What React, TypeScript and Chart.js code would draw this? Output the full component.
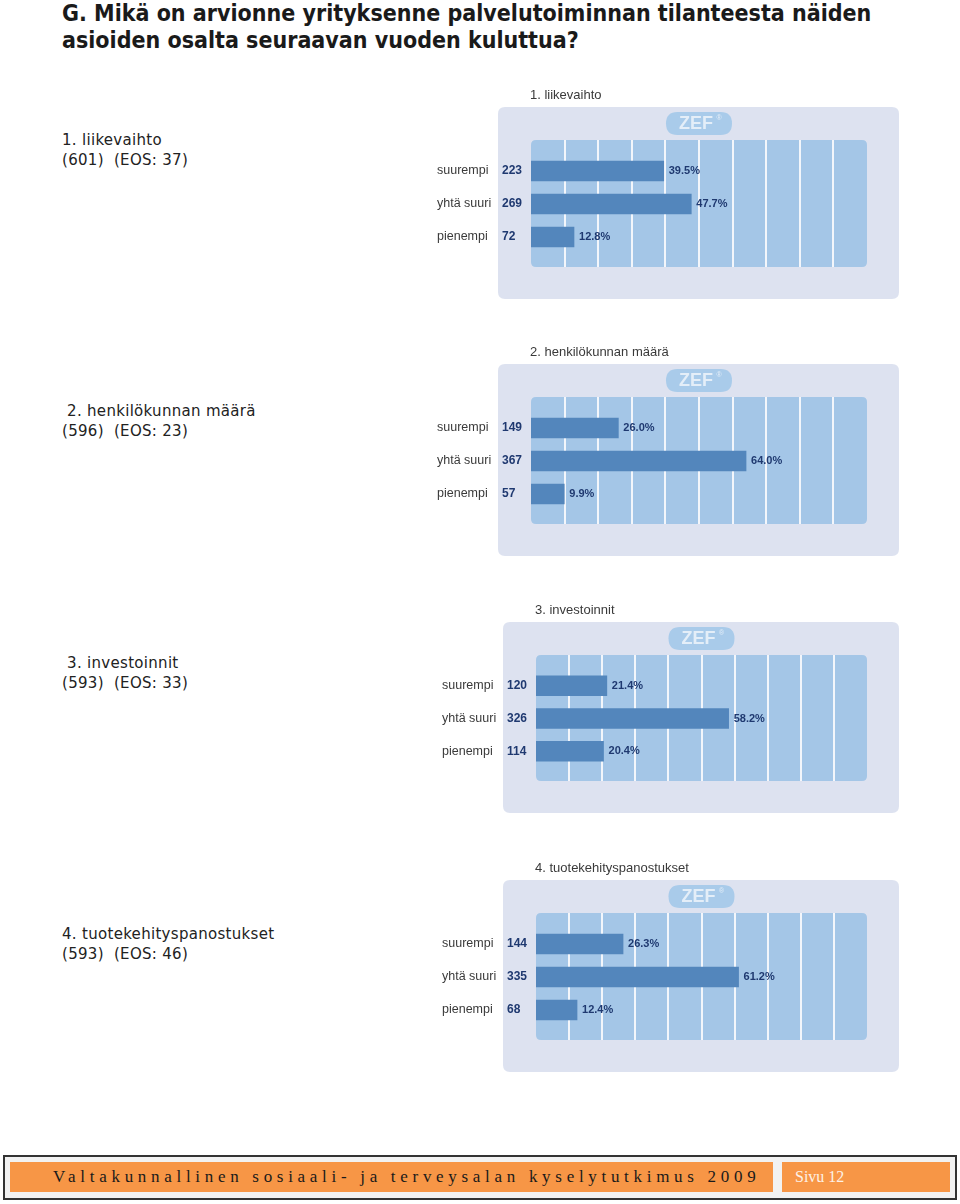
import React, { useEffect, useRef } from "react";
import { Chart, registerables } from "chart.js";

Chart.register(...registerables);

const categories = ["suurempi", "yhtä suuri", "pienempi"];

const chartTitles = ["1. liikevaihto", "2. henkilökunnan määrä", "3. investoinnit", "4. tuotekehityspanostukset"];
const sideTitles = ["1. liikevaihto", " 2. henkilökunnan määrä", " 3. investoinnit", "4. tuotekehityspanostukset"];
const respondents = [601, 596, 593, 593];
const eosCounts = [37, 23, 33, 46];

const counts1 = [223, 269, 72];
const percents1 = [39.5, 47.7, 12.8];
const counts2 = [149, 367, 57];
const percents2 = [26.0, 64.0, 9.9];
const counts3 = [120, 326, 114];
const percents3 = [21.4, 58.2, 20.4];
const counts4 = [144, 335, 68];
const percents4 = [26.3, 61.2, 12.4];

const gridSteps = [10, 20, 30, 40, 50, 60, 70, 80, 90];

const allCounts = [counts1, counts2, counts3, counts4];
const allPercents = [percents1, percents2, percents3, percents4];

function roundRect(ctx: CanvasRenderingContext2D, x: number, y: number, w: number, h: number, r: number) {
  ctx.beginPath();
  ctx.moveTo(x + r, y);
  ctx.lineTo(x + w - r, y);
  ctx.quadraticCurveTo(x + w, y, x + w, y + r);
  ctx.lineTo(x + w, y + h - r);
  ctx.quadraticCurveTo(x + w, y + h, x + w - r, y + h);
  ctx.lineTo(x + r, y + h);
  ctx.quadraticCurveTo(x, y + h, x, y + h - r);
  ctx.lineTo(x, y + r);
  ctx.quadraticCurveTo(x, y, x + r, y);
  ctx.closePath();
}

const panelPlugin = {
  id: "zefPanel",
  beforeDatasetsDraw(chart: any, _args: any, opts: any) {
    const { ctx, chartArea: a, scales } = chart;
    const xs = scales.x;
    const w = a.right - a.left;
    const h = a.bottom - a.top;
    ctx.save();
    // outer panel
    ctx.fillStyle = "#dde2f0";
    roundRect(ctx, a.left - 33, a.top - 33, w + 65, h + 65, 7);
    ctx.fill();
    // ZEF pill
    const cx = (a.left + a.right) / 2;
    ctx.fillStyle = "#a9cbea";
    roundRect(ctx, cx - 33, a.top - 28, 66, 23, 11.5);
    ctx.fill();
    ctx.fillStyle = "#e4eef8";
    ctx.font = "bold 18px 'Liberation Sans', Arial, sans-serif";
    ctx.textAlign = "center";
    ctx.textBaseline = "middle";
    ctx.fillText("ZEF", cx - 3, a.top - 16);
    ctx.font = "7px 'Liberation Sans', Arial, sans-serif";
    ctx.fillText("®", cx + 20, a.top - 22);
    // column area
    ctx.fillStyle = "#a4c6e7";
    roundRect(ctx, a.left, a.top, w, h, 5);
    ctx.fill();
    ctx.fillStyle = "#f3f6fb";
    gridSteps.forEach((v) => {
      const px = xs.getPixelForValue(v);
      ctx.fillRect(Math.round(px) - 1, a.top, 2, h);
    });
    // chart title
    ctx.fillStyle = "#3a3a3a";
    ctx.font = "13px 'Liberation Sans', Arial, sans-serif";
    ctx.textAlign = "left";
    ctx.fillText(opts.title, a.left - 1, a.top - 45);
    ctx.restore();
  },
  afterDatasetsDraw(chart: any, _args: any, opts: any) {
    const { ctx, chartArea: a } = chart;
    const meta = chart.getDatasetMeta(0);
    ctx.save();
    ctx.textBaseline = "middle";
    ctx.textAlign = "left";
    meta.data.forEach((bar: any, i: number) => {
      const y = bar.y;
      ctx.fillStyle = "#3a3a3a";
      ctx.font = "12.5px 'Liberation Sans', Arial, sans-serif";
      ctx.fillText(categories[i], a.left - 94, y);
      ctx.fillStyle = "#1f3970";
      ctx.font = "bold 12px 'Liberation Sans', Arial, sans-serif";
      ctx.fillText(String(opts.counts[i]), a.left - 29, y);
      ctx.font = "bold 11px 'Liberation Sans', Arial, sans-serif";
      ctx.fillText(opts.percents[i].toFixed(1) + "%", bar.x + 5, y);
    });
    ctx.restore();
  },
};

type ZefProps = { idx: number; left: number; top: number; width: number; height: number };

function ZefChart({ idx, left, top, width, height }: ZefProps) {
  const ref = useRef<HTMLCanvasElement | null>(null);
  useEffect(() => {
    if (!ref.current) return;
    const pct = allPercents[idx];
    const chart = new Chart(ref.current, {
      type: "bar",
      data: {
        datasets: [
          {
            data: pct.map((v, i) => ({ x: v, y: i })),
            backgroundColor: "#5386bc",
            borderWidth: 0,
            barThickness: 20,
          },
        ],
      },
      options: {
        indexAxis: "y",
        animation: false,
        responsive: false,
        maintainAspectRatio: false,
        layout: { padding: { left: 106, right: 38, top: 60, bottom: 38 } },
        scales: {
          x: { type: "linear", min: 0, max: 100, display: false, offset: false },
          y: { type: "linear", min: -0.94, max: 2.91, reverse: true, display: false, offset: false, grid: { offset: false } },
        },
        plugins: {
          legend: { display: false },
          tooltip: { enabled: false },
          zefPanel: { title: chartTitles[idx], counts: allCounts[idx], percents: pct },
        } as any,
      },
      plugins: [panelPlugin as any],
    } as any);
    return () => chart.destroy();
  }, [idx]);
  return (
    <canvas
      ref={ref}
      width={width}
      height={height}
      style={{ position: "absolute", left, top, width, height }}
    />
  );
}

const chartBoxes = [
  { left: 425, top: 80, width: 480, height: 225 },
  { left: 425, top: 337, width: 480, height: 225 },
  { left: 430, top: 595, width: 475, height: 224 },
  { left: 430, top: 853, width: 475, height: 225 },
];
const sideTextTops = [130, 401, 653, 924];

export default function App() {
  return (
    <div style={{ position: "absolute", left: 0, top: 0, width: 960, height: 1204, background: "#fff", overflow: "hidden" }}>
      <div
        style={{
          position: "absolute",
          left: 62,
          top: 0,
          fontFamily: "'DejaVu Sans Condensed', 'DejaVu Sans', sans-serif",
          fontWeight: "bold",
          fontSize: 23,
          lineHeight: "27px",
          color: "#1a1a1a",
          whiteSpace: "nowrap",
        }}
      >
        G. Mikä on arvionne yrityksenne palvelutoiminnan tilanteesta näiden
        <br />
        asioiden osalta seuraavan vuoden kuluttua?
      </div>
      {sideTitles.map((t, i) => (
        <div
          key={i}
          style={{
            position: "absolute",
            left: 62,
            top: sideTextTops[i],
            fontFamily: "'DejaVu Sans', sans-serif",
            fontSize: 15,
            letterSpacing: "0.3px",
            lineHeight: "20px",
            color: "#222",
            whiteSpace: "pre",
          }}
        >
          {t}
          {"\n"}
          {`(${respondents[i]})  (EOS: ${eosCounts[i]})`}
        </div>
      ))}
      {chartBoxes.map((b, i) => (
        <ZefChart key={i} idx={i} {...b} />
      ))}
      <div
        style={{
          position: "absolute",
          left: 3,
          top: 1155,
          width: 950,
          height: 41,
          border: "2px solid #333",
          background: "#f2f2f2",
        }}
      />
      <div
        style={{
          position: "absolute",
          left: 10,
          top: 1162,
          width: 763,
          height: 30,
          background: "#f79646",
        }}
      />
      <div
        style={{
          position: "absolute",
          left: 53,
          top: 1162,
          height: 30,
          lineHeight: "30px",
          fontFamily: "'Liberation Serif', 'Times New Roman', serif",
          fontSize: 17,
          letterSpacing: "4.7px",
          color: "#1a1a1a",
          whiteSpace: "nowrap",
        }}
      >
        Valtakunnallinen sosiaali- ja terveysalan kyselytutkimus 2009
      </div>
      <div
        style={{
          position: "absolute",
          left: 782,
          top: 1162,
          width: 168,
          height: 30,
          background: "#f79646",
        }}
      />
      <div
        style={{
          position: "absolute",
          left: 795,
          top: 1162,
          height: 30,
          lineHeight: "30px",
          fontFamily: "'Liberation Serif', 'Times New Roman', serif",
          fontSize: 16,
          color: "#fdf1e6",
          whiteSpace: "nowrap",
        }}
      >
        Sivu 12
      </div>
    </div>
  );
}
